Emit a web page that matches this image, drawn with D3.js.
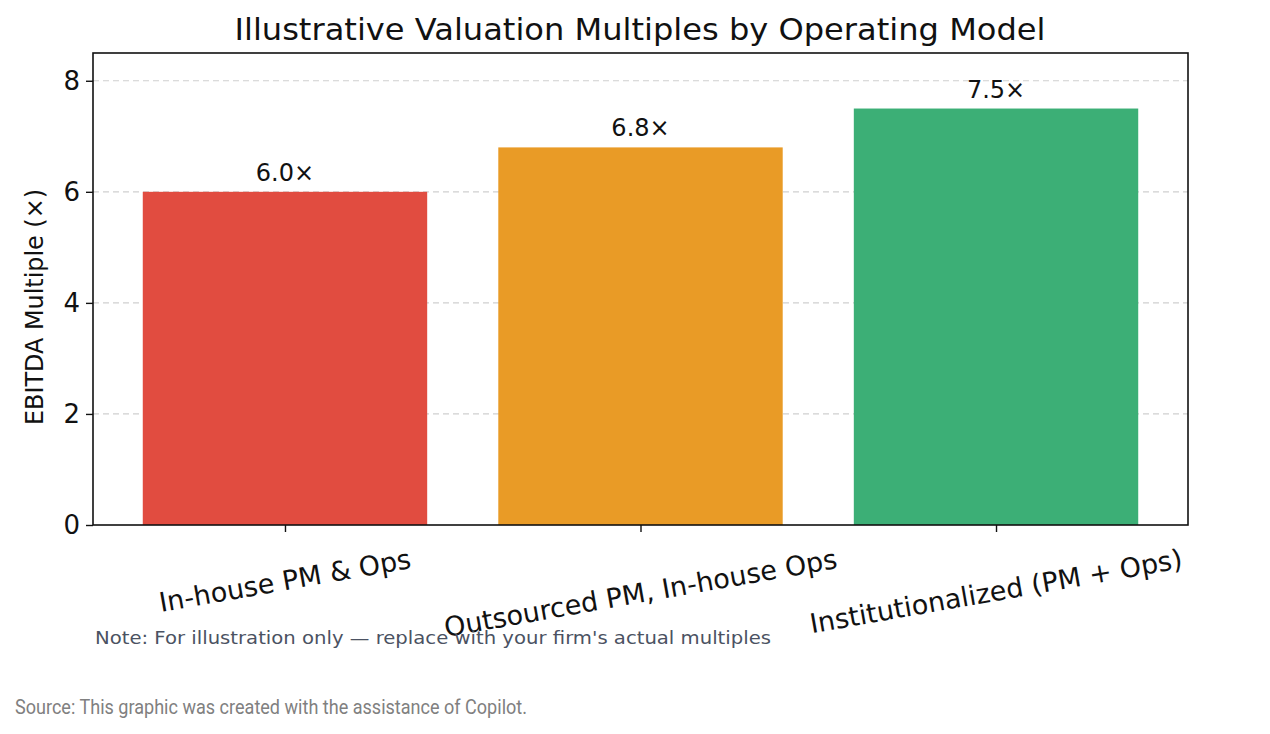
<!DOCTYPE html>
<html>
<head>
<meta charset="utf-8">
<script src="https://cdn.jsdelivr.net/npm/d3@7"></script>
<style>
  body { margin: 0; background: #fff; }
  svg { display: block; }
</style>
</head>
<body>
<svg id="chart" width="1270" height="734"></svg>
<script>
const categories = ["In-house PM & Ops", "Outsourced PM, In-house Ops", "Institutionalized (PM + Ops)"];
const values = [6.0, 6.8, 7.5];
const valueLabels = ["6.0×", "6.8×", "7.5×"];
const barColors = ["#E14C40", "#E99B26", "#3CAF76"];
const yTicks = [0, 2, 4, 6, 8];
const titleText = "Illustrative Valuation Multiples by Operating Model";
const yLabelText = "EBITDA Multiple (×)";
const noteText = "Note: For illustration only — replace with your firm's actual multiples";
const sourceText = "Source: This graphic was created with the assistance of Copilot.";

(function () {
const svg = d3.select("#chart");
const pL = 93, pR = 1188, pT = 53, pB = 525;
const FONT = "DejaVu Sans, sans-serif";

const x = d3.scaleLinear().domain([-0.54, 2.54]).range([pL, pR]);
const y = d3.scaleLinear().domain([0, 8.5]).range([pB, pT]);
const barW = x(0.8) - x(0);

// grid
svg.append("g").selectAll("line").data(yTicks.filter(d => d > 0)).join("line")
  .attr("x1", pL).attr("x2", pR)
  .attr("y1", d => y(d)).attr("y2", d => y(d))
  .attr("stroke", "#cfcfcf").attr("stroke-width", 1.2)
  .attr("stroke-dasharray", "6,4");

// bars
svg.append("g").selectAll("rect").data(values).join("rect")
  .attr("x", (d, i) => x(i) - barW / 2)
  .attr("width", barW)
  .attr("y", d => y(d))
  .attr("height", d => y(0) - y(d))
  .attr("fill", (d, i) => barColors[i]);

// value labels
svg.append("g").selectAll("text").data(values).join("text")
  .attr("x", (d, i) => x(i))
  .attr("y", d => y(d) - 11)
  .attr("text-anchor", "middle")
  .attr("font-family", FONT).attr("font-size", 24).attr("fill", "#111")
  .text((d, i) => valueLabels[i]);

// frame
svg.append("rect").attr("x", pL).attr("y", pT)
  .attr("width", pR - pL).attr("height", pB - pT)
  .attr("fill", "none").attr("stroke", "#111").attr("stroke-width", 1.6);

// y axis
const yAxis = svg.append("g").attr("transform", `translate(${pL},0)`)
  .call(d3.axisLeft(y).tickValues(yTicks).tickSize(7).tickPadding(6).tickFormat(d3.format("d")));
yAxis.select(".domain").remove();
yAxis.selectAll("line").attr("stroke", "#111").attr("stroke-width", 1.4);
yAxis.selectAll("text").attr("font-family", FONT).attr("font-size", 26).attr("fill", "#111");

// x axis ticks
const xAxis = svg.append("g").attr("transform", `translate(0,${pB})`)
  .call(d3.axisBottom(x).tickValues([0, 1, 2]).tickSize(7).tickFormat(""));
xAxis.select(".domain").remove();
xAxis.selectAll("line").attr("stroke", "#111").attr("stroke-width", 1.4);

// x tick labels rotated
const ang = 10, rad = ang * Math.PI / 180, fs = 27;
const labTop = 543;
const lg = svg.append("g");
categories.forEach((c, i) => {
  const t = lg.append("text")
    .attr("font-family", FONT).attr("font-size", fs).attr("fill", "#111")
    .attr("text-anchor", "middle").attr("dominant-baseline", "central")
    .text(c);
  const w = t.node().getComputedTextLength();
  const h = fs * 1.16;
  const H = w * Math.sin(rad) + h * Math.cos(rad);
  const cx = x(i), cy = labTop + H / 2;
  t.attr("x", cx).attr("y", cy).attr("transform", `rotate(${-ang},${cx},${cy})`);
});

// title
svg.append("text").attr("x", 640).attr("y", 40)
  .attr("text-anchor", "middle")
  .attr("font-family", FONT).attr("font-size", 31).attr("fill", "#111")
  .attr("textLength", 811).attr("lengthAdjust", "spacingAndGlyphs")
  .text(titleText);

// y label
svg.append("text")
  .attr("transform", `translate(43,${(pT + pB) / 2 + 18}) rotate(-90)`)
  .attr("text-anchor", "middle")
  .attr("font-family", FONT).attr("font-size", 24).attr("fill", "#111")
  .attr("textLength", 236).attr("lengthAdjust", "spacingAndGlyphs")
  .text(yLabelText);

// note
svg.append("text").attr("x", 95).attr("y", 644)
  .attr("font-family", FONT).attr("font-size", 18).attr("fill", "#4b5262")
  .attr("textLength", 676).attr("lengthAdjust", "spacingAndGlyphs")
  .text(noteText);

// source
svg.append("text").attr("x", 15).attr("y", 714)
  .attr("font-family", "Roboto, sans-serif").attr("font-size", 21).attr("fill", "#808080")
  .attr("textLength", 512).attr("lengthAdjust", "spacingAndGlyphs")
  .text(sourceText);
})();
</script>
</body>
</html>
